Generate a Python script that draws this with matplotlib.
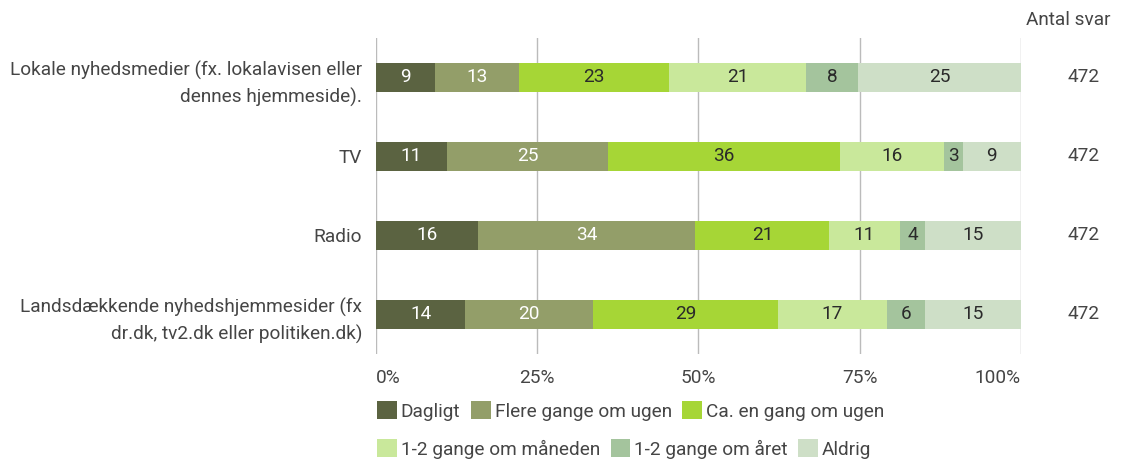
import numpy as np
import matplotlib.pyplot as plt
from matplotlib.patches import Patch
from matplotlib.transforms import blended_transform_factory

plt.rcParams['font.family'] = ['Roboto', 'DejaVu Sans']

media = ['Lokale nyhedsmedier (fx. lokalavisen eller\ndennes hjemmeside).',
         'TV',
         'Radio',
         'Landsdækkende nyhedshjemmesider (fx\ndr.dk, tv2.dk eller politiken.dk)']
answers = ['Dagligt', 'Flere gange om ugen', 'Ca. en gang om ugen',
           '1-2 gange om måneden', '1-2 gange om året', 'Aldrig']
dagligt = [9, 11, 16, 14]
flere_gange = [13, 25, 34, 20]
ugentligt = [23, 36, 21, 29]
maanedligt = [21, 16, 11, 17]
aarligt = [8, 3, 4, 6]
aldrig = [25, 9, 15, 15]
antal_svar = [472, 472, 472, 472]

colors = ['#5b6341', '#939e69', '#a6d636', '#c9e89b', '#a4c49d', '#cedfc7']
text_colors = ['white', 'white', '#2a2a2a', '#2a2a2a', '#2a2a2a', '#2a2a2a']
gray = '#454545'
fs = 13.7

series = np.array([dagligt, flere_gange, ugentligt, maanedligt, aarligt, aldrig], dtype=float)
shares = series / series.sum(axis=0) * 100

fig = plt.figure(figsize=(11.27, 4.62), dpi=100)
ax = fig.add_axes([0.3336, 0.234, 0.5723, 0.684])

y = np.arange(len(media))
left = np.zeros(len(media))
for i in range(len(answers)):
    ax.barh(y, shares[i], left=left, height=0.37, color=colors[i], zorder=2)
    for j in range(len(media)):
        ax.text(left[j] + shares[i][j] / 2, y[j], f'{int(series[i][j])}',
                ha='center', va='center', fontsize=fs, color=text_colors[i], zorder=3)
    left += shares[i]

ax.set_xlim(0, 100)
ax.set_ylim(3.5, -0.5)
ax.set_xticks([0, 25, 50, 75, 100])
ax.set_xticklabels(['0%', '25%', '50%', '75%', '100%'], fontsize=fs, color=gray)
xt = ax.get_xticklabels()
xt[0].set_ha('left')
xt[-1].set_ha('right')
ax.set_yticks(y)
ax.set_yticklabels(media, fontsize=fs, color=gray, linespacing=1.55)
ax.tick_params(axis='x', length=0, pad=11)
ax.tick_params(axis='y', length=0, pad=10)
ax.grid(axis='x', color='#bbbbbb', linewidth=1, zorder=0)
for s in ax.spines.values():
    s.set_visible(False)

# Antal svar column
fig.text(1068 / 1127, 1 - 20 / 462, 'Antal svar', ha='center', va='center', fontsize=fs, color=gray)
tr = blended_transform_factory(fig.transFigure, ax.transData)
for j, n in enumerate(antal_svar):
    ax.text(1084 / 1127, y[j], str(n), transform=tr,
            ha='center', va='center', fontsize=fs, color=gray)

handles = [Patch(facecolor=c, edgecolor='none') for c in colors]
kw = dict(frameon=False, fontsize=fs, handlelength=1.05, handleheight=1.05,
          handletextpad=0.2, columnspacing=0.55, borderaxespad=0, borderpad=0,
          labelcolor=gray, loc='center left')
leg1 = fig.legend(handles[:3], answers[:3], ncol=3,
                  bbox_to_anchor=(377 / 1127, 1 - 411 / 462), **kw)
leg2 = fig.legend(handles[3:], answers[3:], ncol=3,
                  bbox_to_anchor=(377 / 1127, 1 - 449 / 462), **kw)

fig.savefig('out.png', dpi=100)
